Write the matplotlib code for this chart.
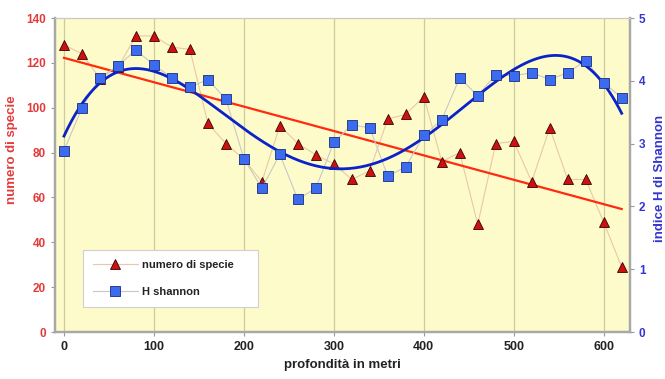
#!/usr/bin/env python3
import numpy as np
import matplotlib.pyplot as plt

# profondità (m)
DEPTH = [0, 20, 40, 60, 80, 100, 120, 140, 160, 180, 200, 220, 240, 260, 280, 300,
         320, 340, 360, 380, 400, 420, 440, 460, 480, 500, 520, 540, 560, 580, 600, 620]

# numero di specie (asse sinistro)
SPECIES = [128, 124, 113, 118, 132, 132, 127, 126, 93, 84, 77, 67, 92, 84, 79, 75,
           68, 72, 95, 97, 105, 76, 80, 48, 84, 85, 67, 91, 68, 68, 49, 29]

# indice H di Shannon (asse destro)
SHANNON = [2.89, 3.57, 4.05, 4.24, 4.49, 4.25, 4.05, 3.90, 4.02, 3.71, 2.76, 2.29, 2.83, 2.11, 2.29, 3.02,
           3.30, 3.25, 2.48, 2.63, 3.13, 3.38, 4.05, 3.76, 4.10, 4.08, 4.13, 4.02, 4.13, 4.32, 3.97, 3.73]

X_TICKS = [0, 100, 200, 300, 400, 500, 600]
LEFT_TICKS = [0, 20, 40, 60, 80, 100, 120, 140]
RIGHT_TICKS = [0, 1, 2, 3, 4, 5]

BG = "#fdfbc9"
RED_TXT = "#e23b3b"
BLUE_TXT = "#3535d0"
TRI_FACE = "#cc1111"
SQ_FACE = "#3b6cf0"
RED_LINE = "#ff2a10"
BLUE_LINE = "#0a22c8"

plt.rcParams["font.family"] = ["Liberation Sans", "DejaVu Sans"]
plt.rcParams["font.weight"] = "bold"


def trend(x, y, deg):
    coef = np.polyfit(x, y, deg)
    xs = np.linspace(min(x), max(x), 300)
    return xs, np.polyval(coef, xs)


def main():
    fig = plt.figure(figsize=(6.65, 3.79), dpi=100)
    ax = fig.add_axes([0.0827, 0.124, 0.8643, 0.8285])
    ax2 = ax.twinx()

    ax.set_facecolor(BG)
    ax2.patch.set_visible(False)

    # species series + linear trend
    ax.plot(DEPTH, SPECIES, color="#e8c8a8", linewidth=0.8, zorder=2)
    xs, ys = trend(DEPTH, SPECIES, 1)
    ax.plot(xs, ys, color=RED_LINE, linewidth=1.6, zorder=3)
    ax.plot(DEPTH, SPECIES, linestyle="none", marker="^", markersize=7,
            markerfacecolor=TRI_FACE, markeredgecolor="#3a0000", markeredgewidth=0.6, zorder=4)

    # shannon series + polynomial trend
    ax2.plot(DEPTH, SHANNON, color="#c8c8c8", linewidth=0.8, zorder=2)
    xs, ys = trend(DEPTH, SHANNON, 4)
    ax2.plot(xs, ys, color=BLUE_LINE, linewidth=2.0, zorder=3)
    ax2.plot(DEPTH, SHANNON, linestyle="none", marker="s", markersize=6.5,
             markerfacecolor=SQ_FACE, markeredgecolor="#1a2a80", markeredgewidth=0.6, zorder=4)

    ax.set_xlim(-10, 629)
    ax.set_ylim(0, 140)
    ax2.set_ylim(0, 5)

    ax.set_xticks(X_TICKS)
    ax.set_yticks(LEFT_TICKS)
    ax2.set_yticks(RIGHT_TICKS)
    ax.tick_params(axis="x", labelsize=9, length=3, color="#999999", labelcolor="#222222")
    ax.tick_params(axis="y", labelsize=8.5, length=3, color="#999999", labelcolor=RED_TXT)
    ax2.tick_params(axis="y", labelsize=8.5, length=3, color="#999999", labelcolor=BLUE_TXT)

    ax.grid(axis="x", color="#cfcba0", linewidth=0.9)
    ax.grid(axis="y", visible=False)
    ax.set_axisbelow(True)

    for a in (ax, ax2):
        a.spines["top"].set_color("#c8c8c8")
        for side in ("left", "bottom", "right"):
            a.spines[side].set_color("#a8a8a8")
            a.spines[side].set_linewidth(1.6)

    ax.set_xlabel("profondità in metri", fontsize=9.5, fontweight="bold", color="#222222", labelpad=4)
    ax.set_ylabel("numero di specie", fontsize=9.5, fontweight="bold", color=RED_TXT)
    ax.yaxis.set_label_coords(-0.064, 0.58)
    ax2.set_ylabel("indice H di Shannon", fontsize=9.5, fontweight="bold", color=BLUE_TXT)
    ax2.yaxis.set_label_coords(1.043, 0.49)

    h1 = plt.Line2D([], [], color="#e8c8a8", linewidth=0.8, marker="^", markersize=7,
                    markerfacecolor=TRI_FACE, markeredgecolor="#3a0000", markeredgewidth=0.6)
    h2 = plt.Line2D([], [], color="#c8c8c8", linewidth=0.8, marker="s", markersize=6.5,
                    markerfacecolor=SQ_FACE, markeredgecolor="#1a2a80", markeredgewidth=0.6)
    leg = ax2.legend([h1, h2], ["numero di specie", "H shannon"], loc="lower left",
                     bbox_to_anchor=(0.049, 0.08, 0.304, 0.18), mode="expand", fontsize=8,
                     fancybox=False, framealpha=1, edgecolor="#d0d0d0", borderpad=0.9,
                     labelspacing=1.5, handlelength=4.0, handletextpad=0.4, borderaxespad=0)
    leg.get_frame().set_linewidth(0.8)
    for t in leg.get_texts():
        t.set_color("#222222")
        t.set_fontweight("bold")

    fig.savefig("out.png")
    plt.close(fig)


if __name__ == "__main__":
    main()
